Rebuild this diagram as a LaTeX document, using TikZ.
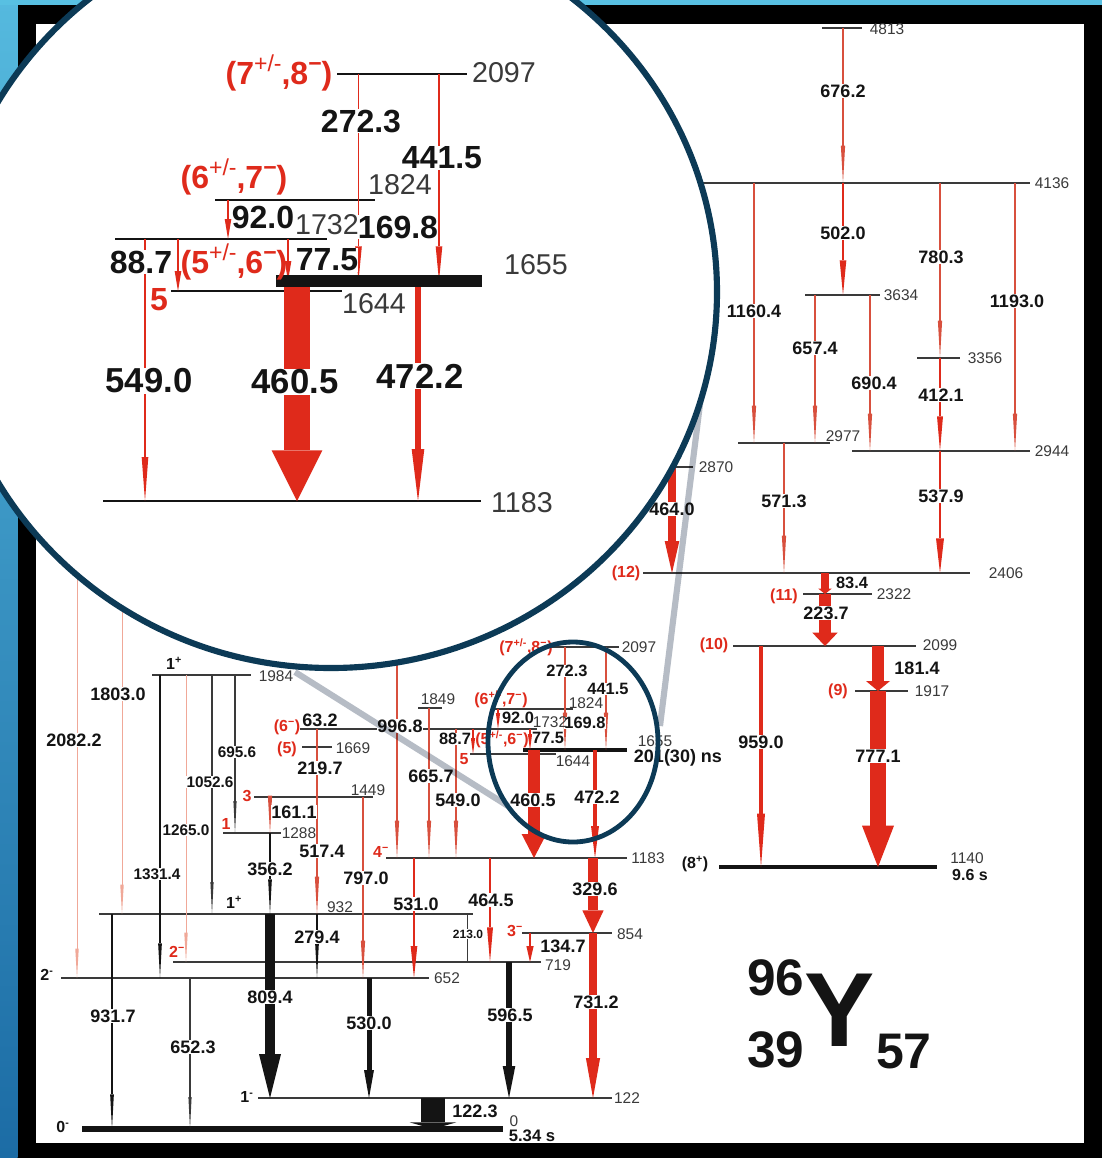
\documentclass[tikz,border=0pt]{standalone}
\usepackage{fontspec}
\setmainfont{Liberation Sans}
\definecolor{gred}{HTML}{DF2A1B}
\definecolor{gpale}{HTML}{F0A898}
\definecolor{gdred}{HTML}{D8503E}
\definecolor{gblk}{HTML}{141414}
\definecolor{levc}{HTML}{3A3A3A}
\definecolor{navy}{HTML}{0C3A56}
\definecolor{greyl}{HTML}{B6BCC5}
\newcounter{nc}
\newcommand{\lvl}[5][lev]{\coordinate (#2) at (#3,#5); \coordinate (#2e) at (#4,#5); \draw[#1] (#2) -- (#2e);}
% a transition: shaft from one level to the next, ending in a filled narrow head
\newcommand{\gam}[4][rthin]{\begin{scope}[#1]
 \coordinate (gx) at (#2,0); \coordinate (ge) at (gx |- #4);
 \draw (gx |- #3) -- ([yshift=\gmL]ge);
 \fill (ge) -- ([xshift=-\gmW/2,yshift=\gmL]ge) -- ([xshift=\gmW/2,yshift=\gmL]ge) -- cycle;
 \end{scope}}
\newcommand{\lab}[4][gl]{\stepcounter{nc}\node[#1] (n\thenc) at (#2,#3) {#4};}
\newcommand{\sps}[1]{\raisebox{.42em}{\fontsize{.72em}{1em}\selectfont #1}}
\newcommand{\spn}[1]{\textsuperscript{#1}}
\tikzset{
 lev/.style={draw=levc,line width=.95pt},
 levk/.style={draw=gblk,line width=3.6pt},
 zlev/.style={draw=gblk,line width=1.5pt},
 gm/.style n args={4}{draw=#1,fill=#1,line width=#2,line cap=butt,/utils/exec={\gdef\gmL{#3}\gdef\gmW{#4}}},
 rthin/.style={gm={gdred}{.9pt}{28pt}{3.2pt}},
 rpale/.style={gm={gpale}{.75pt}{22pt}{2.6pt}},
 rmid/.style={gm={gred}{1.5pt}{26pt}{4.5pt}},
 bthin/.style={gm={gblk}{.8pt}{26pt}{2.8pt}},
 bgrey/.style={gm={levc}{.8pt}{24pt}{2.4pt}},
 gl/.style={font=\bfseries\fontsize{13.5}{14}\selectfont,fill=white,inner xsep=.5pt,inner ysep=.6pt,text=gblk},
 gs/.style={gl,font=\bfseries\fontsize{12.3}{13}\selectfont,inner xsep=0pt,inner ysep=0pt},
 gt/.style={gl,font=\bfseries\fontsize{9}{10}\selectfont},
 lv/.style={font=\fontsize{11.6}{12}\selectfont,text=levc,inner sep=0pt},
 rl/.style={font=\bfseries\fontsize{12}{13}\selectfont,text=gred,inner sep=0pt},
 sl/.style={font=\bfseries\fontsize{12}{13}\selectfont,text=gblk,inner sep=0pt},
 bigt/.style={font=\bfseries\fontsize{38.5}{40}\selectfont,text=gblk,inner sep=0pt},
 zl/.style={font=\bfseries\fontsize{24}{25}\selectfont,fill=white,inner xsep=0pt,inner ysep=.5pt,text=gblk},
 zv/.style={font=\fontsize{21.5}{22}\selectfont,text=levc,inner sep=0pt},
 zr/.style={font=\bfseries\fontsize{24}{25}\selectfont,text=gred,inner sep=0pt},
}
\begin{document}
\begin{tikzpicture}[x=.75pt,y=-.75pt]
\useasboundingbox (0,0) rectangle (1102,1158);
\clip (0,0) rectangle (1102,1158);
% background and frame
\fill[fill=black] (0,0) rectangle (1102,1158);
\shade[top color={rgb,255:red,85;green,185;blue,222},bottom color={rgb,255:red,28;green,108;blue,165}] (0,0) rectangle (17.5,1158);
\fill[fill={rgb,255:red,88;green,192;blue,226}] (0,0) rectangle (1102,5);
\fill[fill=white] (36,23.5) rectangle (1084,1143);
% levels
\lvl{L4813}{822}{862}{28}
\lvl{L4136}{690}{1030}{183}
\lvl{L3634}{805}{880}{295}
\lvl{L3356}{917}{960}{358}
\lvl{L2977}{738}{830}{443}
\lvl{L2944}{852}{1030}{451}
\lvl{L2870}{660}{693}{467}
\lvl{L2406}{643}{970}{573}
\lvl{L2322}{803}{872}{594}
\lvl{L2099}{733}{916}{646}
\lvl{L1917}{855}{908}{691}
\lvl[levk]{L1140}{719}{937}{867}
\lvl{L2097}{548}{619}{647}
\lvl{L1849}{418}{442}{708}
\lvl{L1824}{495}{573}{709}
\lvl{L1732}{300}{537}{729}
\lvl{L1669}{302}{332}{747}
\lvl{L1644}{470}{556}{754}
\lvl[levk]{L1655}{523}{627}{750}
\lvl{L1984}{152}{251}{675}
\lvl{L1449}{254}{373}{797}
\lvl{L1288}{223}{281}{833}
\lvl{L1183}{386}{627}{858}
\lvl{L932}{99}{473}{914}
\lvl{L854}{522}{612}{933}
\lvl{L719}{173}{541}{962}
\lvl{L652}{61}{429}{978}
\lvl{L122}{258}{612}{1098}
\lvl[draw=gblk,line width=4.4pt]{L0}{82}{503}{1129}
\coordinate (Ltop) at (0,560);
% transitions
\gam{843}{L4813}{L4136}
\gam[gm={gred}{1.8pt}{26pt}{5pt}]{843}{L4136}{L3634}
\gam{754}{L4136}{L2977}
\gam{815}{L3634}{L2977}
\gam{870}{L3634}{L2944}
\gam{940}{L4136}{L3356}
\gam[rmid]{940}{L3356}{L2944}
\gam{1015}{L4136}{L2944}
\gam{784}{L2977}{L2406}
\gam[gm={gred}{2.2pt}{26pt}{6pt}]{940}{L2944}{L2406}
\gam[gm={gred}{6pt}{24pt}{11pt}]{672}{L2870}{L2406}
\gam[gm={gred}{6pt}{4pt}{10pt}]{825}{L2406}{L2322}
\gam[gm={gred}{9pt}{10pt}{19pt}]{825}{L2322}{L2099}
\gam[gm={gred}{9.5pt}{7.5pt}{18pt}]{878}{L2099}{L1917}
\gam[gm={gred}{12pt}{31pt}{24pt}]{878}{L1917}{L1140}
\gam[gm={gred}{3pt}{40pt}{6pt}]{761}{L2099}{L1140}
\gam{565}{L2097}{L1655}
\gam{606}{L2097}{L1655}
\gam[gm={gred}{.9pt}{12pt}{3.2pt}]{498}{L1824}{L1732}
\gam[gm={gred}{.9pt}{12pt}{3.2pt}]{473}{L1732}{L1644}
\gam[gm={gred}{.9pt}{12pt}{3.2pt}]{530}{L1732}{L1655}
\gam{429}{L1849}{L1183}
\gam{397}{Ltop}{L1183}
\gam{456}{L1732}{L1183}
\gam[gm={gred}{9.5pt}{18pt}{18.6pt}]{534}{L1655}{L1183}
\gam[gm={gred}{3.5pt}{24pt}{6pt}]{595}{L1655}{L1183}
\gam[rmid]{490}{L1183}{L719}
\gam[gm={gred}{2pt}{24pt}{5pt}]{414}{L1183}{L652}
\gam[gm={gred}{8pt}{17pt}{16pt}]{593}{L1183}{L854}
\gam[gm={gred}{5.5pt}{30pt}{10.7pt}]{593}{L854}{L122}
\gam[gm={gred}{2pt}{12pt}{5.5pt}]{530}{L854}{L719}
\coordinate (g213) at (467,0);
\draw[draw=levc,line width=.7pt] (g213 |- L932) -- (g213 |- L719);
\gam[gm={gblk}{4.3pt}{24pt}{9.5pt}]{509}{L719}{L122}
\gam[gm={gblk}{3.75pt}{21pt}{7.5pt}]{369}{L652}{L122}
\gam[gm={gblk}{7.5pt}{33pt}{16.5pt}]{270}{L932}{L122}
\gam[gm={gblk}{17.5pt}{5pt}{35pt}]{433}{L122}{L0}
\gam[rpale]{77}{Ltop}{L652}
\gam[rpale]{122}{Ltop}{L932}
\gam[bthin]{160}{L1984}{L652}
\gam[rpale]{186}{L1984}{L719}
\gam[bgrey]{212}{L1984}{L932}
\gam[bgrey]{235}{L1984}{L1288}
\gam[rthin]{270}{L1449}{L1288}
\gam[bthin]{270}{L1288}{L932}
\gam[rthin]{317}{L1732}{L932}
\gam[bthin]{317}{L932}{L652}
\gam[rthin]{363}{L1449}{L652}
\gam[bthin]{112}{L932}{L0}
\gam[bgrey]{190}{L652}{L0}
% transition labels
\lab{843}{91}{676.2}
\lab{843}{233}{502.0}
\lab{754}{311}{1160.4}
\lab{815}{348}{657.4}
\lab{874}{383}{690.4}
\lab{941}{257}{780.3}
\lab{941}{395}{412.1}
\lab{1017}{301}{1193.0}
\lab{784}{501}{571.3}
\lab{941}{496}{537.9}
\lab{672}{509}{464.0}
\lab[gs]{852}{583}{83.4}
\lab{826}{613}{223.7}
\lab{917}{668}{181.4}
\lab{878}{756}{777.1}
\lab{761}{742}{959.0}
\lab[gs]{567}{671}{272.3}
\lab[gs]{608}{689}{441.5}
\lab[gs]{518}{718}{92.0}
\lab[gs]{585}{723}{169.8}
\lab[gs]{455}{739}{88.7}
\lab[gs]{548}{738}{77.5}
\lab{400}{726}{996.8}
\lab{431}{776}{665.7}
\lab{458}{800}{549.0}
\lab{533}{800}{460.5}
\lab{597}{797}{472.2}
\lab{416}{904}{531.0}
\lab{491}{900}{464.5}
\lab[gt]{468}{934}{213.0}
\lab[gl]{563}{946}{134.7}
\lab{510}{1015}{596.5}
\lab{595}{889}{329.6}
\lab{596}{1002}{731.2}
\lab{475}{1111}{122.3}
\lab{74}{740}{2082.2}
\lab{118}{694}{1803.0}
\lab[gl,font=\bfseries\fontsize{11.5}{12}\selectfont]{157}{874}{1331.4}
\lab[gl,font=\bfseries\fontsize{11.5}{12}\selectfont]{186}{830}{1265.0}
\lab[gl,font=\bfseries\fontsize{11.5}{12}\selectfont]{210}{782}{1052.6}
\lab[gl,font=\bfseries\fontsize{11.5}{12}\selectfont]{237}{752}{695.6}
\lab{294}{812}{161.1}
\lab{270}{869}{356.2}
\lab{270}{997}{809.4}
\lab{320}{720}{63.2}
\lab{320}{768}{219.7}
\lab{322}{851}{517.4}
\lab{317}{937}{279.4}
\lab{366}{878}{797.0}
\lab{369}{1023}{530.0}
\lab{193}{1047}{652.3}
\lab{113}{1016}{931.7}
% level labels
\lab[lv]{887}{29}{4813}
\lab[lv]{1052}{183}{4136}
\lab[lv]{901}{295}{3634}
\lab[lv]{985}{358}{3356}
\lab[lv]{843}{436}{2977}
\lab[lv]{1052}{451}{2944}
\lab[lv]{716}{467}{2870}
\lab[lv]{1006}{573}{2406}
\lab[lv]{894}{594}{2322}
\lab[lv]{940}{645}{2099}
\lab[lv]{932}{691}{1917}
\lab[lv]{967}{858}{1140}
\lab[sl]{970}{875}{9.6 s}
\lab[lv]{639}{647}{2097}
\lab[lv]{438}{699}{1849}
\lab[lv]{586}{703}{1824}
\lab[lv]{550}{722}{1732}
\lab[lv]{353}{748}{1669}
\lab[lv]{573}{761}{1644}
\lab[lv]{655}{741}{1655}
\lab[sl,font=\bfseries\fontsize{13.5}{14}\selectfont]{678}{758}{201(30) ns}
\lab[lv]{276}{676}{1984}
\lab[lv]{368}{790}{1449}
\lab[lv]{299}{833}{1288}
\lab[lv]{648}{858}{1183}
\lab[lv]{340}{907}{932}
\lab[lv]{630}{934}{854}
\lab[lv]{558}{965}{719}
\lab[lv]{447}{978}{652}
\lab[lv]{627}{1098}{122}
\lab[lv]{514}{1121}{0}
\lab[sl,font=\bfseries\fontsize{12.5}{13}\selectfont]{532}{1136}{5.34 s}
% spin labels
\lab[sl]{695}{864}{(8\spn{+})}
\lab[rl]{526}{647}{(7\spn{+/-},8\spn{−})}
\lab[rl]{501}{699}{(6\spn{+/-},7\spn{−})}
\lab[rl]{502}{739}{(5\spn{+/-},6\spn{−})}
\lab[rl]{287}{727}{(6\spn{−})}
\lab[rl]{287}{749}{(5)}
\lab[rl]{464}{759}{5}
\lab[rl]{381}{852}{4\spn{−}}
\lab[rl]{515}{931}{3\spn{−}}
\lab[rl]{177}{952}{2\spn{−}}
\lab[rl]{247}{796}{3}
\lab[rl]{226}{824}{1}
\lab[sl]{174}{663}{1\spn{+}}
\lab[sl]{234}{902}{1\spn{+}}
\lab[sl]{47}{975}{2\spn{-}}
\lab[sl]{247}{1097}{1\spn{-}}
\lab[sl]{63}{1127}{0\spn{-}}
\lab[rl]{626}{573}{(12)}
\lab[rl]{784}{596}{(11)}
\lab[rl]{714}{645}{(10)}
\lab[rl]{838}{691}{(9)}
% nuclide symbol
\lab[bigt]{776}{978}{96}
\lab[bigt]{776}{1050}{39}
\lab[bigt,font=\bfseries\fontsize{37.5}{39}\selectfont]{904}{1052}{57}
\lab[bigt,font=\bfseries\fontsize{79}{80}\selectfont]{840}{1010}{Y}
% guide lines of the magnifier
\begin{scope}[blend mode=multiply]
\coordinate (gA) at (295,672); \coordinate (gB) at (508,806);
\coordinate (gC) at (702,388); \coordinate (gD) at (660,726);
\draw[draw=greyl,line width=4.6pt] (gA) -- (gB);
\draw[draw=greyl,line width=4.6pt] (gC) -- (gD);
\end{scope}
% small ring
\draw[draw=navy,line width=3.6pt] (573,742) ellipse [x radius=85,y radius=100];
% magnifier
\draw[draw=navy,line width=4.6pt,fill=white] (331,292) ellipse [x radius=386,y radius=376];
% magnified part
\lvl[zlev]{Z2097}{337}{467}{74}
\lvl[zlev]{Z1824}{215}{375}{200}
\lvl[zlev]{Z1732}{115}{327}{239}
\lvl[zlev]{Z1644}{171}{342}{291}
\lvl[zlev]{Z1183}{103}{481}{501}
\coordinate (Z1655) at (276,281); \coordinate (Z1655e) at (482,281);
\gam[gm={gred}{1.4pt}{26pt}{5pt}]{358.5}{Z2097}{Z1655}
\gam[gm={gred}{1.4pt}{26pt}{5pt}]{439}{Z2097}{Z1655}
\gam[gm={gred}{1.4pt}{15pt}{5pt}]{228}{Z1824}{Z1732}
\gam[gm={gred}{1.4pt}{15pt}{5pt}]{178}{Z1732}{Z1644}
\gam[gm={gred}{1.4pt}{15pt}{5pt}]{288}{Z1732}{Z1655}
\gam[gm={gred}{1.4pt}{33pt}{5pt}]{145}{Z1732}{Z1183}
\gam[gm={gred}{19.5pt}{38pt}{38pt}]{297}{Z1655}{Z1183}
\gam[gm={gred}{5pt}{39pt}{9.5pt}]{418}{Z1655}{Z1183}
\draw[draw=gblk,line width=8.4pt] (Z1655) -- (Z1655e);
\lab[zl]{361}{121}{272.3}
\lab[zl]{442}{158}{441.5}
\lab[zl]{263}{217}{92.0}
\lab[zl]{398}{227}{169.8}
\lab[zl]{141}{262}{88.7}
\lab[zl]{327}{260}{77.5}
\lab[zl,font=\bfseries\fontsize{26}{27}\selectfont]{149}{381}{549.0}
\lab[zl,font=\bfseries\fontsize{26}{27}\selectfont]{295}{382}{460.5}
\lab[zl,font=\bfseries\fontsize{26}{27}\selectfont]{420}{376}{472.2}
\lab[zv]{504}{73}{2097}
\lab[zv]{400}{185}{1824}
\lab[zv]{327}{225}{1732}
\lab[zv]{536}{265}{1655}
\lab[zv]{374}{304}{1644}
\lab[zv]{522}{503}{1183}
\lab[zr]{279}{73}{(7\sps{\mdseries +/-},8\sps{−})}
\lab[zr]{234}{177}{(6\sps{\mdseries +/-},7\sps{−})}
\lab[zr]{234}{262}{(5\sps{\mdseries +/-},6\sps{−})}
\lab[zr]{159}{300}{5}
\end{tikzpicture}
\end{document}
